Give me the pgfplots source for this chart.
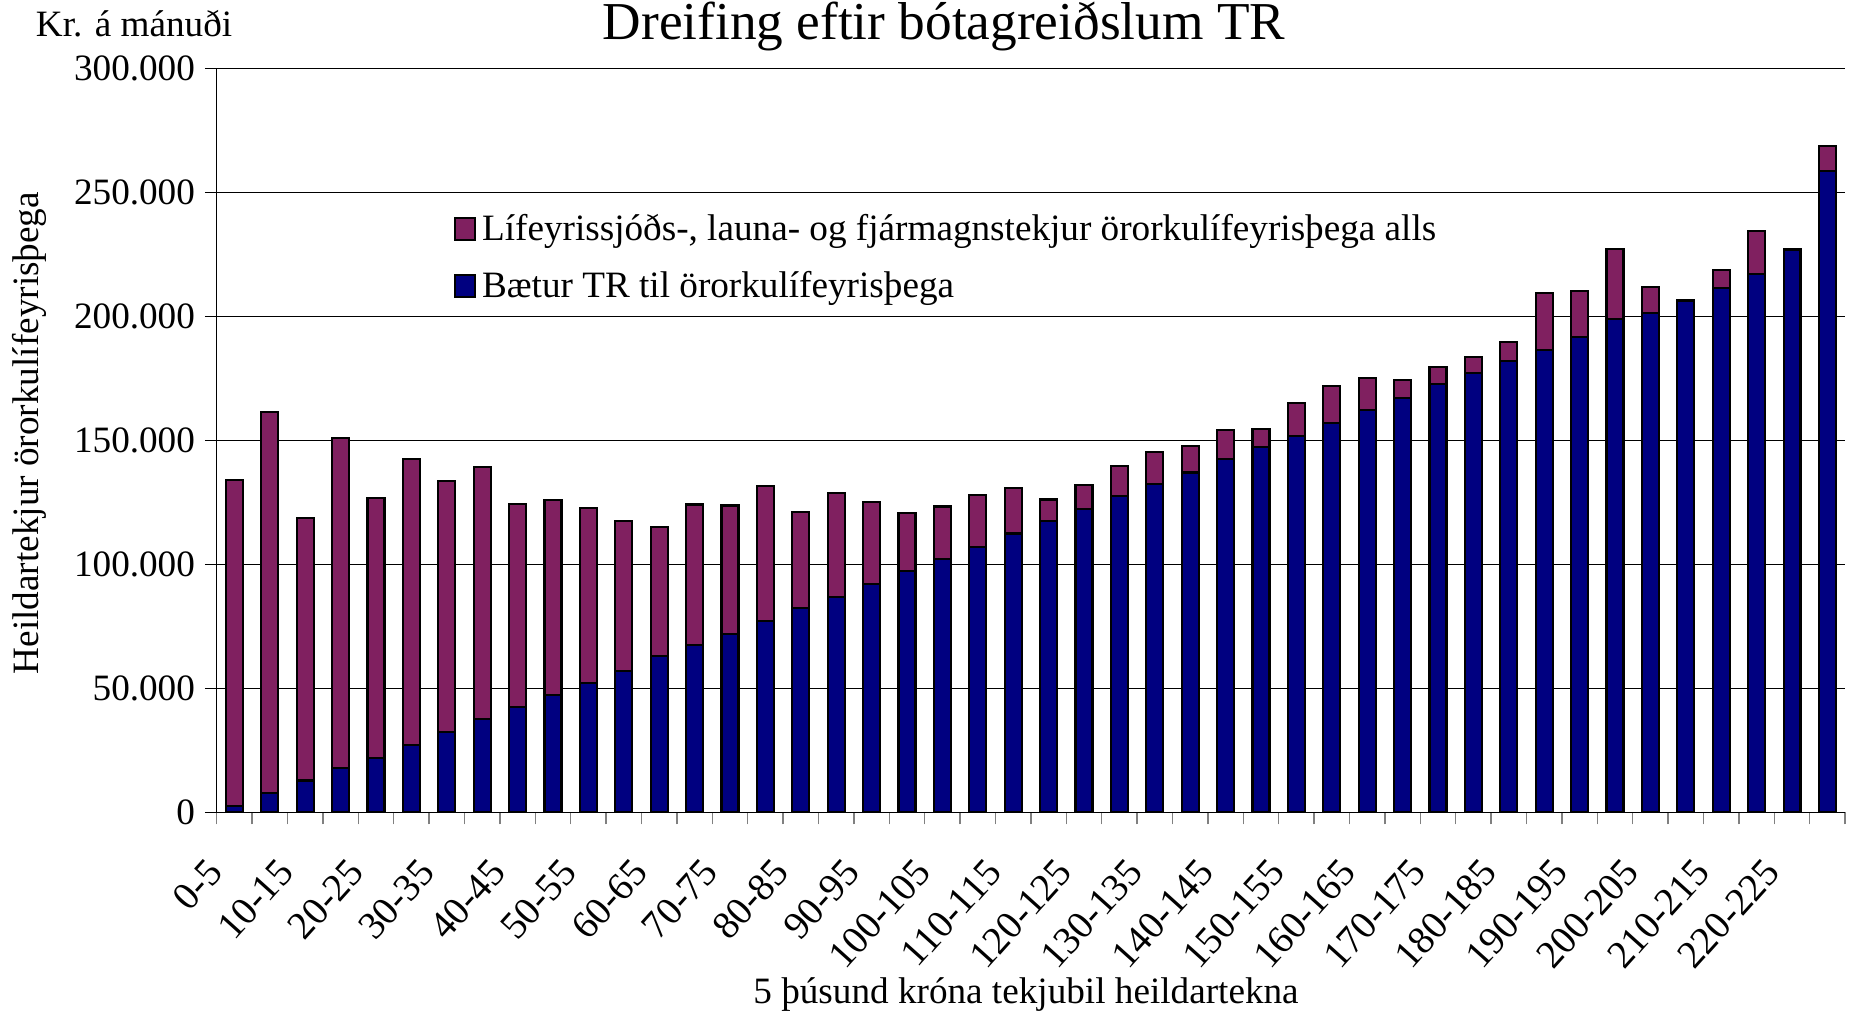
\documentclass[border=0pt]{standalone}
\usepackage{pgfplots}
\pgfplotsset{compat=1.18}
\usepackage{fontspec}
\setmainfont{Liberation Serif}
\definecolor{navybar}{RGB}{0,0,128}
\definecolor{plumbar}{RGB}{128,32,96}
\begin{document}
\begin{tikzpicture}
\begin{axis}[
  scale only axis,
  width=687.5pt, height=314pt,
  ybar stacked,
  bar width=0.48,
  xmin=-0.5, xmax=45.5,
  ymin=0, ymax=300000,
  axis lines*=left,
  axis line style={black, line width=0.6pt},
  ytick={0,50000,100000,150000,200000,250000,300000},
  yticklabels={0,50.000,100.000,150.000,200.000,250.000,300.000},
  scaled y ticks=false,
  ymajorgrids,
  grid style={black, line width=0.45pt},
  xtick={0,2,...,44},
  xticklabels={0-5,10-15,20-25,30-35,40-45,50-55,60-65,70-75,80-85,90-95,100-105,110-115,120-125,130-135,140-145,150-155,160-165,170-175,180-185,190-195,200-205,210-215,220-225},
  major x tick style={draw=none},
  minor xtick={-0.5,0.5,...,45.5},
  minor x tick style={gray, line width=0.6pt},
  minor tick length=5pt,
  major tick length=5pt,
  tick align=outside,
  y tick style={black, line width=0.6pt},
  yticklabel style={font=\fontsize{15.7}{18}\selectfont, inner sep=2pt, xshift=-2pt},
  xticklabel style={font=\fontsize{16.5}{19}\selectfont, xshift=-12.5pt, yshift=-12pt, rotate=48, anchor=north east, inner sep=1pt},
  title={Dreifing eftir bótagreiðslum TR},
  title style={font=\fontsize{22.5}{26}\selectfont, at={(axis description cs:0.4466,1.037)}, anchor=center},
  xlabel={5 þúsund króna tekjubil heildartekna},
  xlabel style={font=\fontsize{15.7}{18}\selectfont, at={(axis description cs:0.497,-0.245)}, anchor=center},
  ylabel={Heildartekjur örorkulífeyrisþega},
  ylabel style={font=\fontsize{15.7}{18}\selectfont, at={(axis description cs:-0.115,0.51)}, anchor=center},
  reverse legend,
  legend cell align=left,
  legend style={at={(axis description cs:0.1455,0.813)}, anchor=north west, draw=none, fill=none,
    font=\fontsize{15.7}{18}\selectfont, inner sep=0pt, row sep=6.5pt,
    nodes={inner sep=2.5pt}},
  legend image code/.code={\draw[#1, draw=black, line width=0.8pt] (0pt,-4.75pt) rectangle (8.5pt,4.75pt);},
  every axis plot/.append style={draw=black, line width=0.9pt},
  clip=false,
]
\addplot[fill=navybar] coordinates {
(0,2700) (1,7800) (2,12900) (3,17800) (4,21900) (5,27300) (6,32400) (7,37700) (8,42400) (9,47300)
(10,52300) (11,57200) (12,63100) (13,67400) (14,72100) (15,77300) (16,82400) (17,86900) (18,92200) (19,97500)
(20,102300) (21,107200) (22,112500) (23,117600) (24,122500) (25,127500) (26,132600) (27,137100) (28,142400) (29,147500)
(30,152000) (31,157000) (32,162300) (33,167200) (34,172700) (35,177100) (36,182000) (37,186700) (38,191800) (39,199000)
(40,201400) (41,206400) (42,211500) (43,217200) (44,226800) (45,258800)
};
\addlegendentry{Bætur TR til örorkulífeyrisþega}
\addplot[fill=plumbar] coordinates {
(0,131500) (1,153700) (2,106000) (3,133400) (4,105000) (5,115100) (6,101200) (7,101600) (8,82000) (9,78700)
(10,70400) (11,60400) (12,51900) (13,56800) (14,51700) (15,54300) (16,38700) (17,41800) (18,33000) (19,23400)
(20,21100) (21,20900) (22,18400) (23,8600) (24,9700) (25,12300) (26,12700) (27,10800) (28,11900) (29,7000)
(30,13200) (31,14900) (32,13100) (33,7400) (34,6800) (35,6500) (36,7600) (37,22700) (38,18600) (39,28300)
(40,10500) (41,300) (42,7400) (43,17400) (44,300) (45,10000)
};
\addlegendentry{Lífeyrissjóðs-, launa- og fjármagnstekjur örorkulífeyrisþega alls}
\node[anchor=west, font=\fontsize{15.7}{18}\selectfont, inner sep=0pt] at (axis description cs:-0.1113,1.0605) {Kr. á mánuði};
\end{axis}
\pgfresetboundingbox
\path (-91.5pt,-87pt) rectangle (692.5pt,343pt);
\end{tikzpicture}
\end{document}
